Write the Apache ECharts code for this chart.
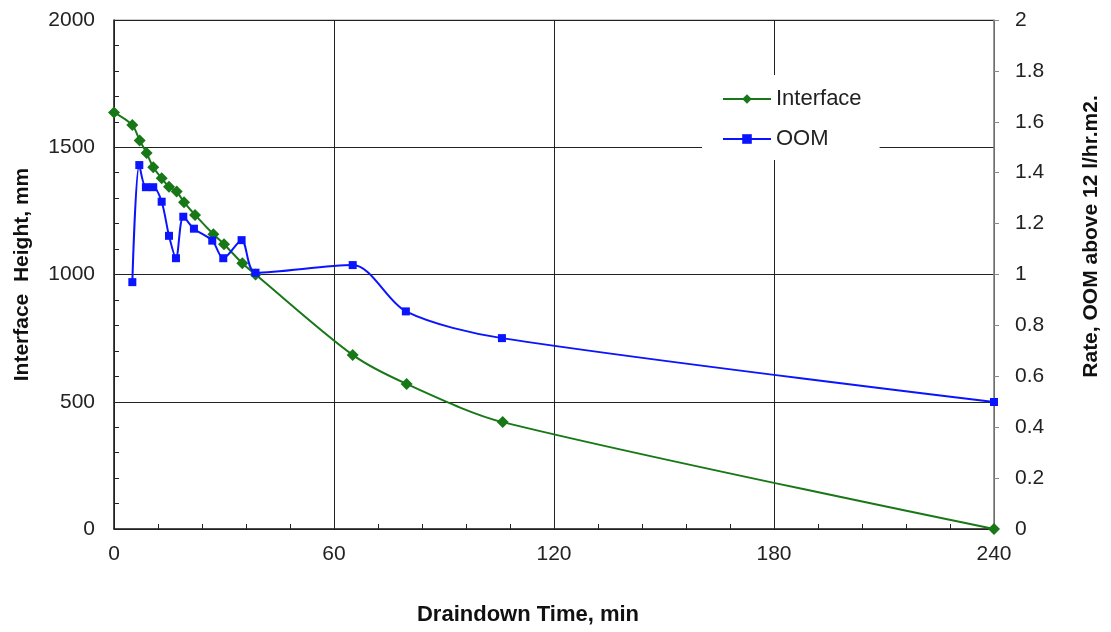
<!DOCTYPE html>
<html><head><meta charset="utf-8">
<script src="https://cdn.jsdelivr.net/npm/echarts@6/dist/echarts.min.js"></script>
<style>html,body{margin:0;padding:0;background:#fff}#c{width:1111px;height:632px}</style>
</head><body><div id="c"></div>
<script>
var timeInterface = [0,5,7,8.9,10.7,13,15,17.1,19.1,22.1,27.1,30,35,38.6,65.1,79.8,106,240];
var interfaceHeight = [1637,1587,1527,1477,1421,1378,1345,1326,1284,1234,1158,1119,1044,1000,684,570,420,0];
var timeOOM = [5,6.9,8.7,10.7,13,15,16.9,18.9,21.8,26.8,29.8,34.8,38.6,65.1,79.6,105.8,240];
var oomRate = [0.97,1.43,1.343,1.343,1.286,1.152,1.064,1.227,1.18,1.133,1.064,1.135,1.007,1.037,0.855,0.75,0.499];
var xTicks = [0,60,120,180,240];
var seriesNames = ['Interface','OOM'];

var font = 'Liberation Sans, Arial, sans-serif';
var chart = echarts.init(document.getElementById('c'), null, {renderer:'canvas'});
chart.setOption({
  animation:false,
  textStyle:{fontFamily:font},
  grid:{left:114,right:117,top:20,bottom:103,show:true,borderColor:'#999',borderWidth:1,backgroundColor:'transparent'},
  legend:{
    show:true,
    left:702, top:75, orient:'vertical',
    data:seriesNames,
    backgroundColor:'#fff', padding:[13,18,10,20], itemGap:18,
    itemWidth:48, itemHeight:12,
    textStyle:{fontSize:22,color:'#222',fontFamily:font}
  },
  xAxis:{
    type:'value', min:0, max:240, interval:60,
    axisLine:{lineStyle:{color:'#222',width:1.5}},
    axisTick:{show:true,inside:true,length:5,lineStyle:{color:'#222'}},
    minorTick:{show:true,splitNumber:5,length:5,lineStyle:{color:'#222'}},
    splitLine:{show:true,lineStyle:{color:'#222',width:1}},
    axisLabel:{fontSize:21,color:'#222',margin:15,fontFamily:font,formatter:function(v){return String(v);}},
    name:'Draindown Time, min', nameLocation:'middle', nameGap:75,
    nameTextStyle:{fontSize:22,fontWeight:'bold',color:'#111',fontFamily:font,padding:[0,52,0,0]}
  },
  yAxis:[{
    type:'value', min:0, max:2000, interval:500,
    axisLine:{show:true,lineStyle:{color:'#222',width:1.5}},
    axisTick:{show:true,inside:true,length:5,lineStyle:{color:'#222'}},
    minorTick:{show:true,splitNumber:5,length:5,lineStyle:{color:'#222'}},
    splitLine:{show:true,lineStyle:{color:'#222',width:1}},
    axisLabel:{fontSize:21,color:'#222',margin:19,fontFamily:font,formatter:function(v){return String(v);}},
    name:'Interface  Height, mm', nameLocation:'middle', nameGap:81,
    nameTextStyle:{fontSize:21,fontWeight:'bold',color:'#111',fontFamily:font}
  },{
    type:'value', min:0, max:2, interval:0.2, position:'right',
    axisLine:{show:true,lineStyle:{color:'#888',width:1.5}},
    axisTick:{show:true,inside:false,length:5,lineStyle:{color:'#888'}},
    splitLine:{show:false},
    axisLabel:{fontSize:21,color:'#222',margin:21,fontFamily:font,formatter:function(v){return String(Math.round(v*10)/10);}},
    name:'Rate, OOM above 12 l/hr.m2.', nameLocation:'middle', nameGap:87,
    nameTextStyle:{fontSize:21,fontWeight:'bold',color:'#111',fontFamily:font,padding:[0,0,0,76]}
  }],
  series:[{
    name:seriesNames[0], type:'line', yAxisIndex:0, smooth:0.3, clip:false,
    data:timeInterface.map(function(t,i){return [t,interfaceHeight[i]];}),
    symbol:'diamond', symbolSize:12,
    lineStyle:{color:'#187818',width:2}, itemStyle:{color:'#187818'}, z:3
  },{
    name:seriesNames[1], type:'line', yAxisIndex:1, smooth:0.3, clip:false,
    data:timeOOM.map(function(t,i){return [t,oomRate[i]];}),
    symbol:'rect', symbolSize:8,
    lineStyle:{color:'#0a14ff',width:2}, itemStyle:{color:'#0a14ff'}, z:4
  }]
});
</script></body></html>
